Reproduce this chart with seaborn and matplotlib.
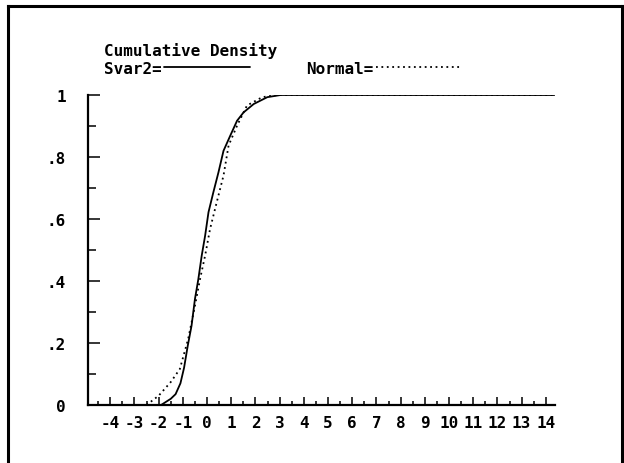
import matplotlib
matplotlib.use("Agg")
import matplotlib.pyplot as plt
from matplotlib.lines import Line2D
from matplotlib.ticker import MultipleLocator, FixedLocator
import numpy as np
import pandas as pd
import seaborn as sns

# ---- data ----
svar2_x = [-2.5, -1.9, -1.5, -1.3, -1.1, -0.95, -0.8, -0.64, -0.5, -0.36, -0.22,
           -0.08, 0.06, 0.26, 0.47, 0.68, 0.96, 1.24, 1.51, 1.93, 2.49, 3.04, 14.35]
svar2_p = [0.0, 0.0, 0.02, 0.035, 0.07, 0.12, 0.19, 0.256, 0.342, 0.406, 0.482,
           0.546, 0.622, 0.686, 0.750, 0.820, 0.869, 0.917, 0.944, 0.971, 0.993, 1.0, 1.0]

normal_x = [-2.5, -2.0, -1.5, -1.125, -0.78, -0.5, -0.29, -0.08, 0.125, 0.40,
            0.68, 0.89, 1.24, 1.65, 2.28, 2.9, 14.35]
normal_p = [0.0, 0.03, 0.074, 0.116, 0.213, 0.320, 0.406, 0.482, 0.568, 0.654,
            0.740, 0.837, 0.901, 0.966, 0.993, 1.0, 1.0]

x_ticks = list(range(-4, 15))
x_tick_labels = [str(v) for v in x_ticks]
y_ticks = [0, 0.2, 0.4, 0.6, 0.8, 1.0]
y_tick_labels = ["0", ".2", ".4", ".6", ".8", "1"]
series_names = ["Svar2", "Normal"]
legend_labels = ["Svar2=", "Normal="]
title_text = "Cumulative Density"

df = pd.concat([
    pd.DataFrame({"x": svar2_x, "p": svar2_p, "series": series_names[0]}),
    pd.DataFrame({"x": normal_x, "p": normal_p, "series": series_names[1]}),
], ignore_index=True)

sns.set_theme(style="white")
plt.rcParams["font.family"] = ["DejaVu Sans Mono", "DejaVu Sans"]
plt.rcParams["font.weight"] = "bold"
plt.rcParams["text.color"] = "black"

W, H = 624, 464
fig = plt.figure(figsize=(W / 100, H / 100), dpi=100)
fig.patch.set_facecolor("white")
ax = fig.add_axes([88 / W, (H - 406) / H, (555 - 88) / W, (406 - 96) / H])
ax.set_facecolor("white")

sns.lineplot(data=df, x="x", y="p", style="series", style_order=series_names,
             dashes={"Svar2": "", "Normal": (1, 2)}, color="black",
             estimator=None, sort=False, linewidth=1.3, ax=ax)

ax.set_xlim(-4.92, 14.38)
ax.set_ylim(0, 1)
ax.set_xlabel("")
ax.set_ylabel("")

for s in ["top", "right"]:
    ax.spines[s].set_visible(False)
for s in ["left", "bottom"]:
    ax.spines[s].set_color("black")
    ax.spines[s].set_linewidth(1.6)

ax.xaxis.set_major_locator(FixedLocator(x_ticks))
ax.set_xticklabels(x_tick_labels)
ax.xaxis.set_minor_locator(FixedLocator([v + 0.5 for v in range(-5, 15)]))
ax.yaxis.set_major_locator(FixedLocator(y_ticks))
ax.set_yticklabels(y_tick_labels)
ax.yaxis.set_minor_locator(MultipleLocator(0.1))

ax.tick_params(axis="x", which="major", direction="in", length=6, width=1.1,
               color="black", pad=7, labelsize=11.5, bottom=True)
ax.tick_params(axis="x", which="minor", direction="in", length=3, width=1.1,
               color="black", bottom=True)
ax.tick_params(axis="y", which="major", direction="in", length=8.5, width=1.1,
               color="black", pad=16, labelsize=11.5, left=True)
ax.tick_params(axis="y", which="minor", direction="in", length=5.5, width=1.1,
               color="black", left=True)
for lab in ax.get_xticklabels() + ax.get_yticklabels():
    lab.set_fontweight("bold")
    lab.set_color("black")

# title
fig.text(104 / W, 1 - 51 / H, title_text, ha="left", va="center",
         fontsize=11.5, fontweight="bold", color="black")

# legend row: "Svar2=____  Normal=....."
old = ax.get_legend()
handles = list(old.legend_handles)
old.remove()
leg = fig.legend(handles, legend_labels, loc="center left",
                 bbox_to_anchor=(104 / W, 1 - 69 / H), bbox_transform=fig.transFigure,
                 ncol=2, markerfirst=False, frameon=False, handlelength=5.4,
                 handletextpad=0.15, columnspacing=3.5, borderpad=0, borderaxespad=0,
                 prop={"family": "DejaVu Sans Mono", "weight": "bold", "size": 11.5})
for t in leg.get_texts():
    t.set_color("black")
for h in leg.legend_handles:
    h.set_color("black")

# outer frame of the picture (left, top, right)
for (xs, ys) in [([8 / W, 8 / W], [0, 1 - 7 / H]),
                 ([8 / W, 622 / W], [1 - 7 / H, 1 - 7 / H]),
                 ([622 / W, 622 / W], [0, 1 - 7 / H])]:
    fig.add_artist(Line2D(xs, ys, transform=fig.transFigure, color="black",
                          linewidth=2.2, solid_capstyle="projecting"))

fig.savefig("out.png", dpi=100, facecolor="white")
